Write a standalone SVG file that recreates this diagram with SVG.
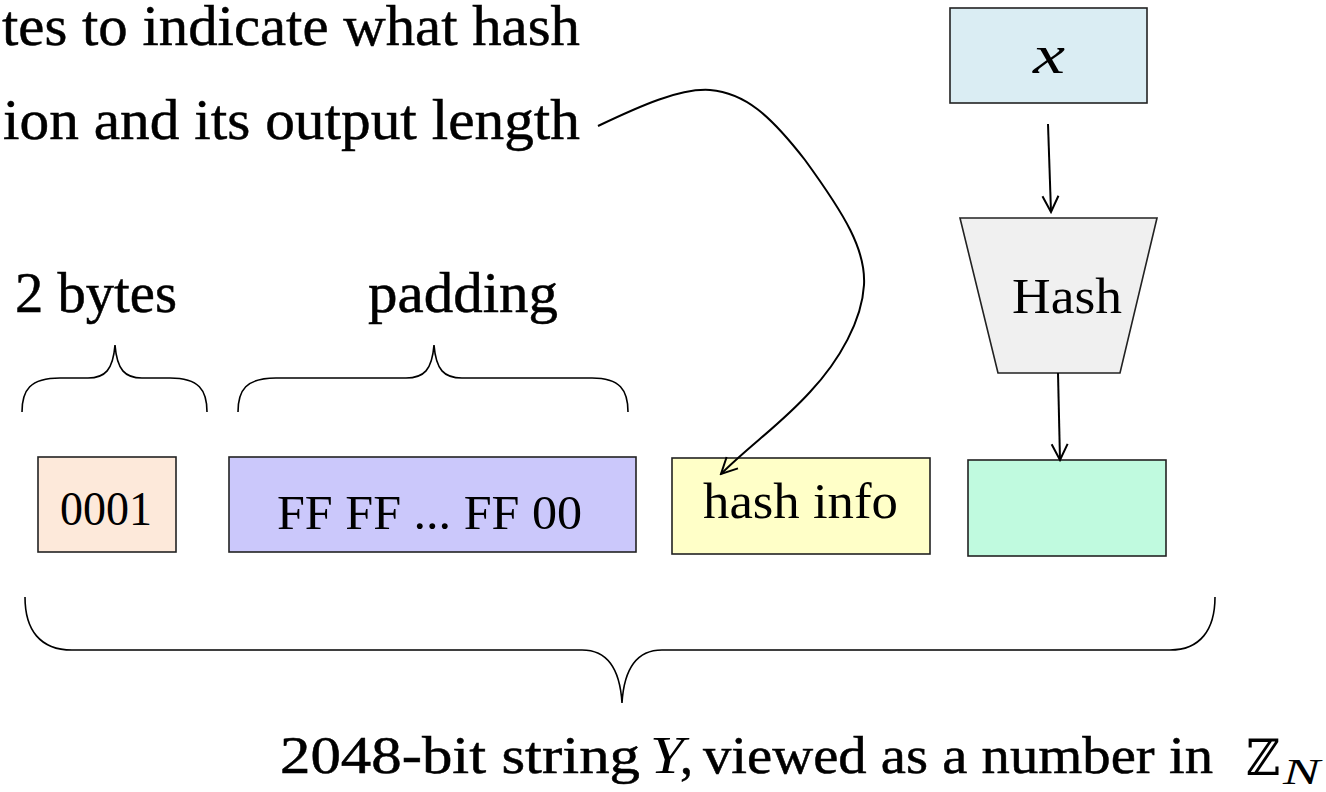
<svg xmlns="http://www.w3.org/2000/svg" width="1326" height="792" viewBox="0 0 1326 792">
  <style>
    .box { stroke: #222; stroke-width: 1.6; }
    .lbl { font-family: "Liberation Serif", "DejaVu Serif", serif; fill: #000; }
    .heavy { stroke: #000; stroke-width: 0.5; }
    .brace { fill: none; stroke: #000; stroke-width: 1.6; }
    .conn { fill: none; stroke: #000; stroke-width: 2; }
  </style>
  <defs>
    <marker id="vhead" viewBox="0 0 20 20" refX="18" refY="10" markerWidth="20" markerHeight="20" markerUnits="userSpaceOnUse" orient="auto">
      <path d="M2,2 L18,10 L2,18" fill="none" stroke="#000" stroke-width="2"/>
    </marker>
  </defs>
  <rect width="1326" height="792" fill="#fff"/>

  <!-- caption for the hash-info field, running off the left edge -->
  <g id="note">
    <text class="lbl heavy" x="2" y="45" font-size="58" textLength="578" lengthAdjust="spacingAndGlyphs">tes to indicate what hash</text>
    <text class="lbl heavy" x="3" y="139" font-size="58" textLength="577" lengthAdjust="spacingAndGlyphs">ion and its output length</text>
  </g>

  <!-- field braces and their labels -->
  <g id="brace-2bytes">
    <path class="brace" d="M22,412 C22,390 30,378 60,378 L88,378 C105,378 113,370 115,345 C117,370 125,378 142,378 L170,378 C199,378 207,390 207,412"/>
    <text class="lbl heavy" x="15" y="312" font-size="56" textLength="162" lengthAdjust="spacingAndGlyphs">2 bytes</text>
  </g>
  <g id="brace-padding">
    <path class="brace" d="M238,412 C238,390 246,378 276,378 L406,378 C424,378 432,370 434,345 C436,370 444,378 462,378 L592,378 C620,378 628,390 628,412"/>
    <text class="lbl heavy" x="368" y="312" font-size="56" textLength="190" lengthAdjust="spacingAndGlyphs">padding</text>
  </g>

  <!-- fields of Y -->
  <g id="field-0001">
    <rect class="box" x="38" y="457" width="138" height="95" fill="#fde9da"/>
    <text class="lbl" x="60" y="525" font-size="48" textLength="92" lengthAdjust="spacingAndGlyphs">0001</text>
  </g>
  <g id="field-padding">
    <rect class="box" x="229" y="457" width="407" height="95" fill="#cbc8fb"/>
    <text class="lbl" x="277" y="529" font-size="48" textLength="305" lengthAdjust="spacingAndGlyphs">FF FF ... FF 00</text>
  </g>
  <g id="field-hashinfo">
    <rect class="box" x="672" y="458" width="258" height="96" fill="#ffffc8"/>
    <text class="lbl" x="703" y="518" font-size="50" textLength="195" lengthAdjust="spacingAndGlyphs">hash info</text>
  </g>
  <g id="field-digest">
    <rect class="box" x="968" y="460" width="198" height="96" fill="#c0fadf"/>
  </g>

  <!-- input and hash function -->
  <g id="input-x">
    <rect class="box" x="950" y="8" width="197" height="95" fill="#daedf3"/>
    <text class="lbl" x="1033" y="73" font-size="54" font-style="italic" textLength="32" lengthAdjust="spacingAndGlyphs">x</text>
  </g>
  <g id="hash-fn">
    <polygon class="box" points="960,218 1157,218 1120,373 998,373" fill="#f0f0f0"/>
    <text class="lbl" x="1012" y="313" font-size="50" textLength="110" lengthAdjust="spacingAndGlyphs">Hash</text>
  </g>

  <!-- connectors -->
  <g id="connectors">
    <path class="conn" d="M1048,124 L1051,212" marker-end="url(#vhead)"/>
    <path class="conn" d="M1058,373 L1060,460" marker-end="url(#vhead)"/>
    <path class="conn" d="M598,126 C640,106 680,88 710,90 C745,93 770,115 805,160 C845,215 866,250 864,285 C862,320 840,360 810,392 C780,425 750,445 721,474" marker-end="url(#vhead)"/>
  </g>

  <!-- brace over the whole string Y -->
  <g id="brace-Y">
    <path class="brace" d="M25,597 C25,630 40,650 72,650 L582,650 C608,650 620,670 622,703 C624,670 636,650 662,650 L1170,650 C1200,650 1215,630 1215,597"/>
    <text class="lbl heavy" x="280" y="773" font-size="52" textLength="360" lengthAdjust="spacingAndGlyphs">2048-bit string</text>
    <text class="lbl" x="650" y="773" font-size="52" font-style="italic" textLength="34" lengthAdjust="spacingAndGlyphs">Y</text>
    <text class="lbl heavy" x="680" y="773" font-size="52">,</text>
    <text class="lbl heavy" x="703" y="773" font-size="52" textLength="510" lengthAdjust="spacingAndGlyphs">viewed as a number in</text>
    <text class="lbl" x="1246" y="775" font-size="50" font-family="DejaVu Serif, serif" textLength="34" lengthAdjust="spacingAndGlyphs">ℤ</text>
    <text class="lbl" x="1283" y="784" font-size="36" font-style="italic" textLength="37" lengthAdjust="spacingAndGlyphs">N</text>
  </g>
</svg>
